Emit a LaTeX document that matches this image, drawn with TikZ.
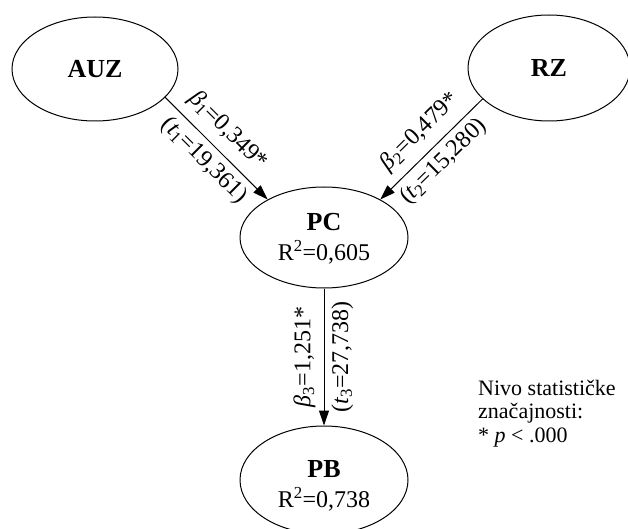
\documentclass[tikz,border=0pt]{standalone}
\usepackage{fontspec}
\setmainfont{Liberation Serif}
\usetikzlibrary{shapes.geometric,arrows.meta}

% path coefficient and t statistic
\newcommand\bcoef[2]{{\itshape β}\textsubscript{#1}=#2*}
\newcommand\tstat[2]{({\itshape t}\textsubscript{#1}=#2)}

\begin{document}
\begin{tikzpicture}[x=1pt,y=-1pt,
  construct/.style={draw, ellipse, line width=1pt, inner sep=0pt,
    minimum width=166pt, minimum height=104pt},
  cname/.style={font=\fontsize{26}{30}\selectfont\bfseries, inner sep=0pt},
  ctext/.style={font=\fontsize{24}{30}\selectfont, align=center, inner sep=0pt},
  link/.style={draw, line width=1pt, -{Triangle[length=15pt,width=10pt]}},
  coef/.style={font=\fontsize{24}{24}\selectfont, inner sep=0pt},
  note/.style={font=\fontsize{22}{23.5}\selectfont, align=left, inner sep=0pt}
]
\useasboundingbox (0,0) rectangle (628,529);

% constructs
\node[construct] (AUZ) at (95,69) {};
\node[cname] (AUZtext) at (AUZ) {AUZ};
\node[construct, minimum width=162pt, minimum height=106pt] (RZ) at (549,68) {};
\node[cname] (RZtext) at (RZ) {RZ};
\node[construct, minimum width=168pt, minimum height=101pt] (PC) at (324,237.5) {};
\node[ctext] (PCtext) at (324,238.5) {{\fontsize{26}{30}\selectfont\bfseries PC}\\R\textsuperscript{2}=0,605};
\node[construct, minimum width=168pt, minimum height=108pt] (PB) at (324,480) {};
\node[ctext] (PBtext) at (324,485.5) {{\fontsize{26}{30}\selectfont\bfseries PB}\\R\textsuperscript{2}=0,738};

% structural paths
\draw[link] (AUZ.-22.8) --
  node[coef, sloped, above=9pt, pos=0.47] (b1) {\bcoef{1}{0,349}}
  node[coef, sloped, below=6pt, pos=0.5] (t1) {\tstat{1}{19,361}}
  (PC.146);
\draw[link] (RZ.-155.2) --
  node[coef, sloped, above=9pt, pos=0.47] (b2) {\bcoef{2}{0,479}}
  node[coef, sloped, below=6pt, pos=0.5] (t2) {\tstat{2}{15,280}}
  (PC.34);
\draw[link] (PC.south) --
  node[coef, rotate=90, anchor=south, yshift=0pt, xshift=0pt, inner ysep=8pt, pos=0.5] (b3) {\bcoef{3}{1,251}}
  node[coef, rotate=90, anchor=north, inner ysep=7pt, pos=0.5] (t3) {\tstat{3}{27,738}}
  (PB.north);

% significance note
\node[note, anchor=north west] (sig) at (478,379.5)
  {Nivo statističke\\značajnosti:\\* {\itshape p} < .000};
\end{tikzpicture}
\end{document}
